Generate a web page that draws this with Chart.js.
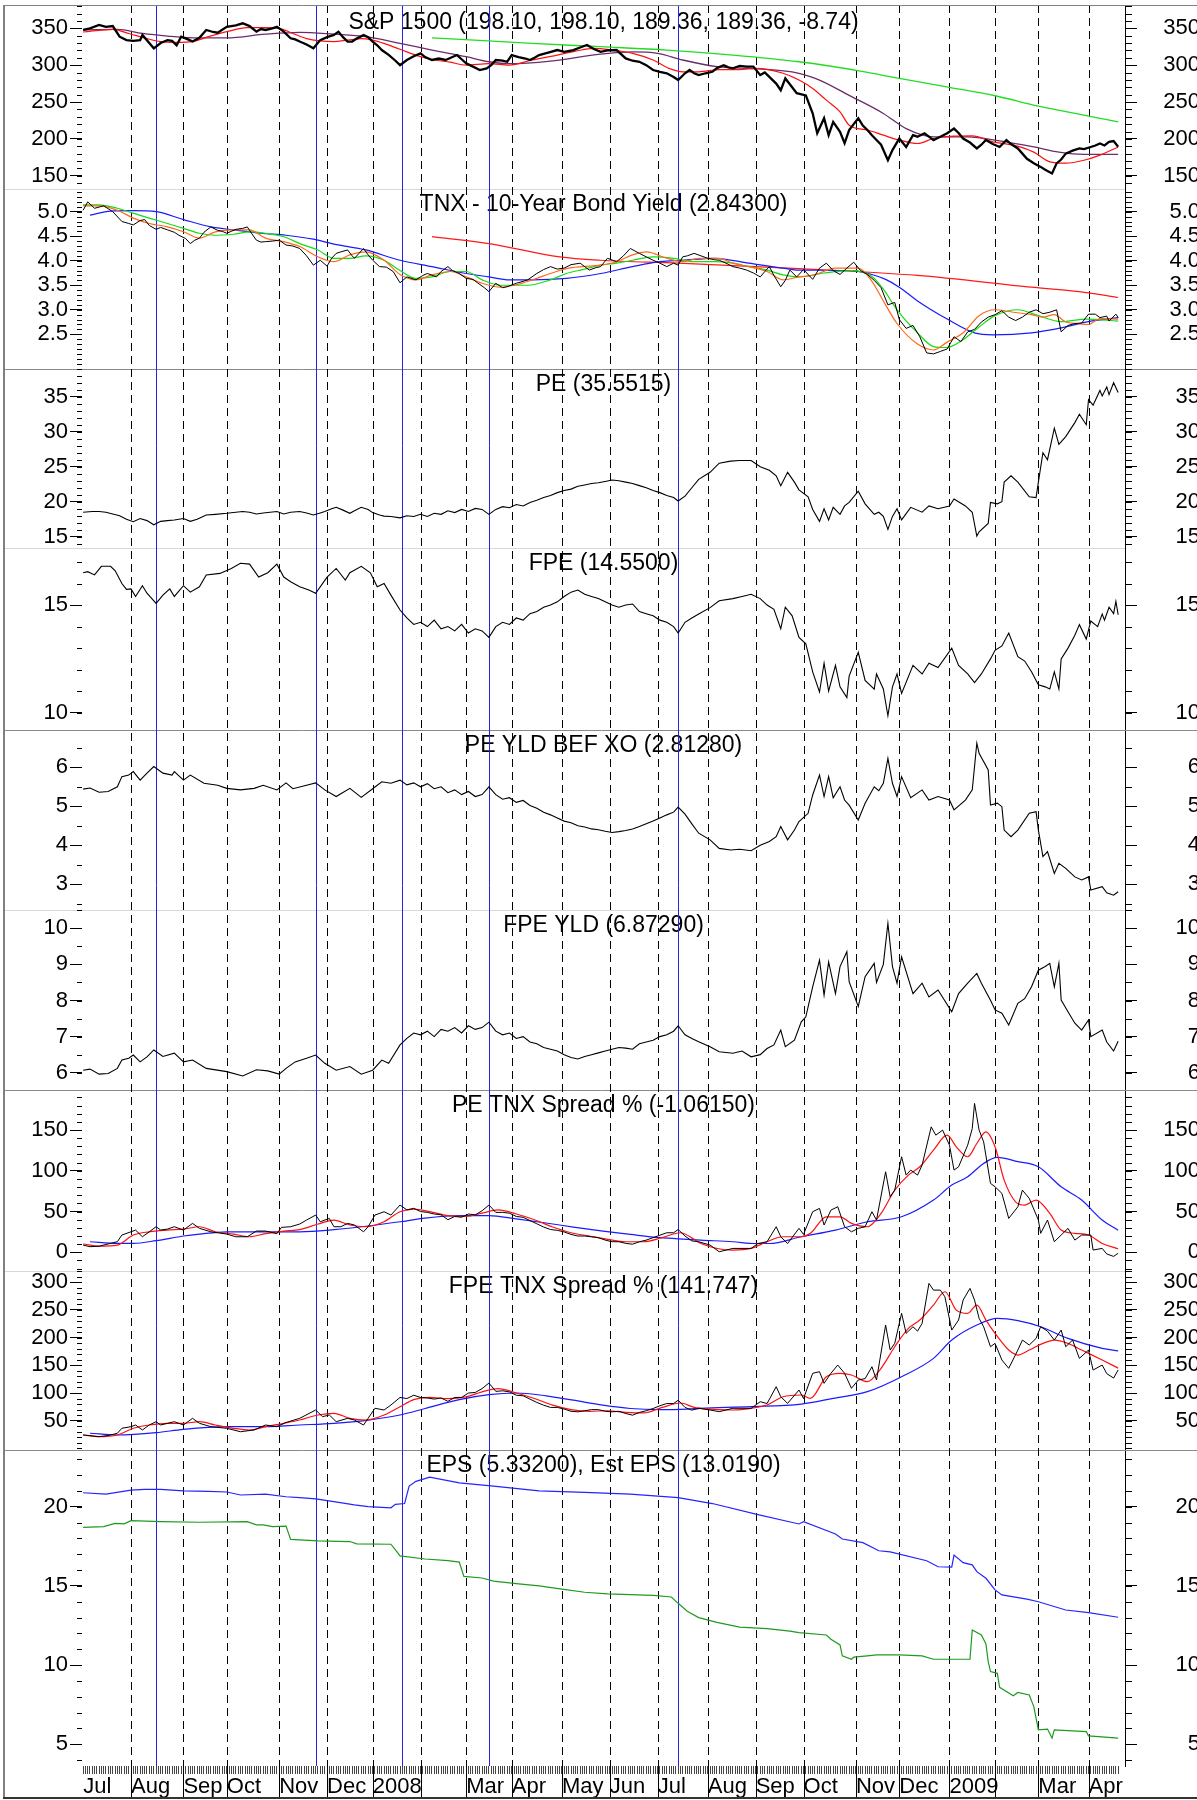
<!DOCTYPE html>
<html>
<head>
<meta charset="utf-8">
<script src="https://cdn.jsdelivr.net/npm/chart.js@4"></script>
<style>
  body { margin: 0; background: #fff; }
  #wrap { width: 1197px; height: 1800px; overflow: hidden; position: relative; }
</style>
</head>
<body>
<div id="wrap"><canvas id="c" width="1200" height="1800"></canvas></div>
<script>
// x = trading day index, 0 = first trading day of July 2007
let months = ['Jul','Aug','Sep','Oct','Nov','Dec','2008','','Mar','Apr','May','Jun','Jul','Aug','Sep','Oct','Nov','Dec','2009','','Mar','Apr'];
let monthStarts = [0,21,44,63,86,107,127,148,168,188,210,231,252,274,295,316,339,358,380,400,419,441];
let lastDay = 454;
let eventDays = [32, 102, 140, 178, 261];   // blue marker lines

let titles = [
  'S&P 1500 (198.10, 198.10, 189.36, 189.36, -8.74)',
  'TNX - 10-Year Bond Yield (2.84300)',
  'PE (35.5515)',
  'FPE (14.5500)',
  'PE YLD BEF XO (2.81280)',
  'FPE YLD (6.87290)',
  'PE TNX Spread % (-1.06150)',
  'FPE TNX Spread % (141.747)',
  'EPS (5.33200), Est EPS (13.0190)'
];

let spxTicks = [150,200,250,300,350];
let tnxTicks = [2.5,3,3.5,4,4.5,5];
let peTicks = [15,20,25,30,35];
let fpeTicks = [10,15];
let peYldTicks = [3,4,5,6];
let fpeYldTicks = [6,7,8,9,10];
let peSpreadTicks = [0,50,100,150];
let fpeSpreadTicks = [50,100,150,200,250,300];
let epsTicks = [5,10,15,20];

// ---- S&P 1500
let spx = [[0,347.7],[3,350],[7,354.5],[10,352],[13,353],[16,338.6],[19,334],[22,333],[25,334],[26,341],[29,330],[31,322.8],[34,330],[37,334],[39,333],[41,327],[43,338.6],[46,335],[48,332],[51,337],[54,347.7],[57,345],[59,344],[63,352],[67,354],[70,356.8],[73,353],[76,345.4],[78,349],[80,347.7],[83,350],[85,352],[88,345.4],[91,336.4],[93,335],[95,332],[98,328],[101,322.8],[104,334],[107,338],[110,341],[112,345.4],[114,338],[116,332],[118,332],[120,336],[123,341],[125,338],[127,332],[129,327],[131,320.5],[134,314],[137,306],[139,300],[142,307],[145,312],[148,316],[150,311],[153,307],[156,309],[159,307],[162,311],[164,313.7],[166,308],[168,302.4],[171,298],[174,293.4],[177,295.6],[179,300],[181,307],[184,306],[186,304.6],[188,313.7],[191,311],[194,309],[196,307],[198,310],[200,313.7],[204,317],[208,320.5],[211,318],[215,320.5],[218,324],[221,327.3],[224,322],[227,318],[230,320],[234,320.5],[238,309.2],[241,306],[244,304.6],[247,300],[250,293.4],[253,291],[256,288.9],[259,284],[261,279.8],[264,289],[266,293.4],[268,289],[270,286.5],[273,289],[276,291],[278,296],[281,300],[283,297],[285,295.6],[288,299],[291,298],[294,298],[297,286.5],[299,290],[301,284],[304,275],[306,266],[308,282],[311,270],[313,262],[317,259],[320,234.7],[322,207.6],[325,228],[327,205],[329,223],[332,209.5],[334,194],[336,212],[338,220],[340,228],[342,218],[344,212],[346,205],[348,198.4],[350,192],[353,171],[355,184.8],[358,200.5],[361,189],[364,205],[366,203],[369,207.6],[371,203],[373,198.4],[376,203],[379,207.6],[382,214],[384,208],[386,200.5],[389,195],[392,187],[394,192],[396,198.4],[399,193],[402,189],[405,198.4],[407,193],[410,187],[412,180],[414,173],[417,167],[420,162],[422,158],[425,153],[427,166.8],[429,172],[431,180],[434,184],[437,187],[439,186],[442,189],[444,191],[446,193.7],[448,191],[450,196],[452,197],[454,189.4]];
let spxMaRed = [[0,345],[13,348.6],[20,343],[28,336],[34,332],[41,331],[48,332],[55,338.6],[63,345.4],[72,351],[80,351],[86,350],[92,343],[98,336],[104,333],[110,332],[116,334],[122,336],[127,334],[132,329.5],[139,321.5],[148,311.5],[154,307],[161,304],[168,300],[178,302],[187,300],[197,307],[208,313.7],[216,319],[224,322.8],[232,320.5],[241,316],[250,307],[257,295.6],[263,291],[270,291],[279,294],[288,294],[295,295.6],[307,289],[314,279.8],[320,268.4],[326,252.6],[332,236.7],[336,218.6],[344,212],[351,205],[358,198.4],[366,193.7],[373,200.5],[382,203.7],[390,204],[399,196],[408,191.5],[417,182],[424,168.8],[431,167],[439,171],[446,178],[454,189]];
let spxMaPurple = [[0,347.7],[15,348.6],[26,343],[37,339.5],[51,337],[63,337],[80,342],[95,344.5],[110,342],[124,338.6],[139,329.6],[153,320.5],[168,311.5],[178,304.6],[187,302],[205,305.6],[227,315],[241,318],[252,316],[263,307],[278,298],[292,295.6],[314,289],[323,279.8],[336,259],[351,234.5],[361,214],[373,202.8],[388,202.8],[402,197.3],[417,189],[428,182],[439,179],[454,179]];
let spxMaGreen = [[153,337],[197,329.6],[227,325],[256,320.5],[285,313.7],[314,304.6],[341,292],[358,282],[380,270],[400,258.5],[419,244.4],[441,231],[454,223]];

// ---- TNX
let tnx = [[0,5.03],[2,5.2],[5,5.07],[9,5.12],[13,5.0],[17,4.8],[20,4.76],[22,4.73],[25,4.82],[27,4.84],[29,4.72],[32,4.64],[34,4.68],[37,4.63],[40,4.58],[42,4.52],[45,4.45],[47,4.35],[49,4.42],[51,4.46],[53,4.58],[56,4.69],[59,4.62],[61,4.6],[63,4.56],[65,4.6],[67,4.64],[70,4.66],[72,4.69],[74,4.55],[76,4.42],[78,4.38],[80,4.39],[83,4.4],[86,4.42],[89,4.32],[92,4.3],[95,4.25],[98,4.1],[101,3.91],[104,4.01],[107,3.89],[109,4.05],[111,4.15],[113,4.18],[116,4.22],[118,4.1],[119,4.05],[121,4.15],[123,4.25],[125,4.12],[127,4.01],[130,3.88],[133,3.87],[136,3.78],[139,3.55],[142,3.67],[146,3.61],[149,3.7],[151,3.74],[155,3.67],[157,3.78],[160,3.88],[162,3.8],[165,3.74],[168,3.64],[171,3.62],[173,3.55],[176,3.45],[178,3.37],[181,3.54],[184,3.45],[186,3.47],[190,3.54],[193,3.58],[195,3.61],[199,3.74],[202,3.82],[205,3.88],[208,3.83],[211,3.85],[214,3.92],[218,3.95],[222,3.81],[225,3.86],[227,3.88],[230,4.05],[234,3.98],[237,4.1],[240,4.25],[242,4.2],[244,4.15],[247,4.08],[250,4.01],[253,3.95],[256,3.88],[259,3.95],[261,3.91],[263,4.08],[265,4.1],[268,4.15],[271,4.1],[274,4.05],[277,4.02],[279,4.01],[282,3.95],[285,3.88],[288,3.85],[291,3.81],[294,3.75],[297,3.67],[299,3.78],[301,3.88],[303,3.7],[306,3.47],[308,3.6],[310,3.81],[313,3.67],[316,3.82],[320,3.62],[323,3.85],[326,3.95],[329,3.8],[332,3.72],[335,3.85],[338,3.97],[341,3.8],[344,3.72],[347,3.6],[350,3.45],[353,3.1],[356,3.15],[358,2.8],[361,2.62],[364,2.68],[367,2.45],[370,2.12],[373,2.1],[376,2.15],[379,2.2],[382,2.45],[385,2.35],[388,2.55],[391,2.6],[394,2.75],[397,2.85],[400,2.9],[403,2.98],[406,2.85],[409,2.78],[412,2.85],[415,2.95],[418,3.0],[421,2.92],[424,2.95],[427,3.0],[429,2.55],[432,2.68],[435,2.72],[438,2.73],[441,2.91],[444,2.91],[446,2.84],[449,2.87],[450,2.77],[453,2.91],[454,2.84]];
let tnxMaOrange = [[0,5.12],[7,5.12],[15,5.03],[22,4.87],[29,4.76],[37,4.69],[44,4.59],[51,4.46],[58,4.59],[66,4.63],[73,4.63],[80,4.46],[88,4.39],[95,4.29],[103,4.08],[110,3.98],[117,4.12],[124,4.18],[132,4.01],[139,3.72],[146,3.61],[153,3.71],[161,3.78],[168,3.67],[175,3.54],[183,3.46],[190,3.51],[197,3.61],[205,3.74],[212,3.84],[219,3.88],[227,3.91],[234,3.98],[241,4.12],[247,4.18],[256,4.05],[263,3.98],[270,4.05],[279,4.05],[285,3.95],[292,3.88],[300,3.78],[307,3.61],[314,3.67],[320,3.7],[330,3.85],[340,3.85],[346,3.58],[351,3.18],[357,2.72],[366,2.3],[373,2.18],[379,2.34],[386,2.53],[393,2.88],[400,3.0],[408,2.95],[416,2.9],[421,2.85],[426,2.9],[431,2.75],[436,2.72],[441,2.7],[446,2.82],[454,2.81]];
let tnxMaGreen = [[0,5.14],[7,5.14],[15,5.07],[22,4.97],[29,4.87],[37,4.76],[44,4.66],[51,4.56],[58,4.52],[66,4.54],[73,4.59],[80,4.56],[88,4.49],[95,4.35],[103,4.22],[110,4.05],[117,4.05],[124,4.1],[132,4.01],[139,3.8],[146,3.64],[153,3.67],[161,3.78],[168,3.78],[175,3.61],[183,3.5],[195,3.5],[205,3.61],[212,3.74],[219,3.82],[227,3.91],[234,3.95],[241,4.01],[250,4.08],[259,4.05],[268,3.98],[277,3.98],[285,3.95],[292,3.88],[300,3.81],[307,3.71],[314,3.67],[325,3.75],[337,3.8],[346,3.68],[351,3.42],[357,3.0],[366,2.53],[373,2.25],[379,2.23],[386,2.39],[393,2.65],[400,2.88],[410,3.0],[419,2.88],[429,2.76],[440,2.81],[454,2.77]];
let tnxMaBlue = [[3,4.93],[12,5.01],[22,5.02],[32,5.0],[44,4.84],[56,4.69],[66,4.63],[78,4.56],[89,4.52],[101,4.44],[110,4.34],[124,4.22],[139,4.01],[153,3.88],[168,3.74],[178,3.67],[187,3.61],[197,3.61],[212,3.64],[227,3.74],[241,3.88],[253,3.98],[263,4.01],[277,4.05],[292,3.95],[307,3.85],[314,3.81],[337,3.8],[346,3.72],[352,3.62],[358,3.46],[366,3.18],[379,2.81],[391,2.53],[399,2.49],[416,2.53],[429,2.63],[441,2.76],[454,2.84]];
let tnxMaRed = [[153,4.49],[178,4.35],[209,4.08],[227,4.01],[261,3.95],[314,3.84],[366,3.7],[416,3.46],[437,3.37],[454,3.25]];

// ---- PE / FPE
let pe = [[0,18.5],[4,18.6],[7,18.6],[10,18.5],[13,18.25],[16,18.0],[19,17.5],[22,17.15],[25,17.6],[28,17.3],[31,16.7],[34,17.2],[37,17.3],[40,17.4],[44,17.6],[47,17.2],[50,17.5],[54,18.1],[58,18.2],[63,18.35],[67,18.5],[70,18.6],[73,18.5],[76,18.25],[79,18.4],[82,18.5],[85,18.6],[88,18.25],[91,18.5],[95,18.6],[98,18.4],[101,18.1],[104,18.4],[106,18.6],[109,19.0],[111,19.2],[114,18.8],[117,18.35],[119,18.7],[122,19.2],[125,18.9],[127,18.45],[130,18.1],[132,17.95],[135,17.9],[139,17.7],[142,18.0],[145,17.9],[148,18.2],[151,17.9],[154,18.35],[157,18.2],[160,18.7],[163,18.45],[166,18.9],[169,18.6],[172,19.05],[175,18.9],[178,18.2],[181,18.9],[184,19.3],[187,19.15],[190,19.6],[193,19.4],[196,19.9],[199,20.2],[202,20.6],[205,20.9],[208,21.3],[211,21.6],[214,21.8],[217,22.2],[220,22.4],[223,22.6],[226,22.7],[229,22.9],[232,23.1],[235,23.0],[238,22.8],[241,22.6],[244,22.3],[247,22.0],[250,21.6],[253,21.3],[256,20.9],[259,20.6],[261,20.1],[264,20.8],[267,22.0],[270,23.2],[275,24.2],[279,25.5],[284,25.8],[288,25.9],[293,25.9],[297,25.0],[301,24.5],[304,23.7],[306,22.3],[309,24.2],[312,22.8],[314,21.7],[318,20.7],[320,18.9],[323,17.2],[325,19.0],[327,17.4],[329,19.2],[332,18.2],[334,19.4],[336,19.9],[340,21.5],[343,19.7],[347,18.2],[349,18.5],[351,17.9],[353,16.05],[355,17.9],[357,19.0],[359,17.4],[363,19.2],[368,18.5],[371,19.4],[375,19.0],[380,19.4],[382,20.4],[387,19.4],[390,18.5],[392,15.1],[393,15.7],[397,16.9],[398,19.9],[401,19.7],[403,20.0],[404,22.8],[407,23.7],[410,22.8],[415,20.7],[418,20.6],[419,22.8],[421,27.0],[423,26.0],[426,30.5],[428,28.2],[431,29.3],[435,31.3],[437,32.5],[440,31.0],[441,34.6],[443,33.8],[446,35.9],[447,35.1],[449,36.4],[450,35.3],[452,37.0],[454,35.6]];
let fpe = [[0,16.5],[2,16.55],[5,16.4],[8,16.8],[12,16.8],[14,16.6],[17,16.0],[19,15.73],[21,15.75],[23,15.4],[26,15.9],[28,15.55],[32,15.08],[35,15.46],[38,15.75],[40,15.4],[44,15.9],[47,15.6],[51,15.85],[54,16.4],[60,16.47],[65,16.7],[69,16.94],[73,16.9],[77,16.3],[81,16.5],[85,16.9],[88,16.3],[91,16.08],[95,15.85],[99,15.7],[102,15.55],[107,16.3],[111,16.7],[115,16.16],[117,16.5],[122,16.8],[126,16.5],[129,15.85],[132,16.0],[135,15.46],[139,14.77],[142,14.4],[145,14.1],[148,14.2],[151,14.0],[154,14.3],[157,13.9],[160,14.0],[163,13.8],[166,14.1],[169,13.7],[172,13.9],[175,13.8],[178,13.5],[181,14.0],[184,14.2],[187,14.1],[190,14.4],[193,14.3],[196,14.6],[199,14.7],[202,14.9],[205,15.0],[208,15.15],[211,15.4],[214,15.6],[217,15.7],[220,15.5],[223,15.4],[226,15.3],[229,15.15],[232,15.0],[235,14.9],[238,15.0],[241,15.05],[244,14.7],[247,14.6],[250,14.5],[253,14.3],[256,14.2],[259,14.0],[261,13.7],[264,14.2],[267,14.4],[270,14.58],[275,14.88],[279,15.2],[285,15.3],[289,15.4],[293,15.5],[297,15.3],[300,15.0],[303,14.8],[306,13.9],[308,14.9],[311,14.5],[314,13.5],[317,13.2],[320,11.9],[323,10.96],[325,12.3],[327,11.0],[330,12.2],[332,11.2],[335,10.7],[336,11.7],[340,12.8],[343,11.5],[347,11.1],[348,11.8],[351,11.1],[353,9.86],[355,11.2],[357,11.8],[359,10.9],[364,12.2],[368,11.8],[371,12.3],[375,12.1],[381,13.0],[384,12.2],[388,11.8],[391,11.4],[394,11.8],[398,12.5],[400,12.9],[403,13.1],[406,13.7],[410,12.6],[413,12.4],[416,11.9],[419,11.3],[422,11.2],[424,11.1],[426,11.9],[428,11.1],[429,12.5],[432,13.0],[435,13.6],[437,14.09],[440,13.42],[442,14.26],[445,14.0],[447,14.58],[448,14.3],[450,14.9],[452,14.6],[453,15.17],[454,14.55]];

// ---- PE YLD / FPE YLD
let peYld = [[0,5.44],[3,5.47],[7,5.36],[11,5.38],[15,5.5],[17,5.76],[20,5.8],[22,5.89],[25,5.67],[28,5.85],[31,6.02],[35,5.85],[39,5.8],[40,5.89],[44,5.67],[47,5.8],[53,5.59],[59,5.54],[63,5.46],[69,5.42],[75,5.46],[79,5.54],[85,5.42],[89,5.6],[92,5.45],[98,5.54],[102,5.6],[106,5.42],[111,5.25],[117,5.46],[122,5.23],[127,5.45],[131,5.63],[135,5.59],[139,5.67],[142,5.55],[145,5.6],[148,5.5],[151,5.58],[154,5.45],[157,5.5],[160,5.35],[163,5.42],[166,5.3],[169,5.38],[172,5.25],[175,5.3],[178,5.5],[181,5.3],[184,5.18],[187,5.22],[190,5.1],[193,5.15],[196,5.02],[199,4.95],[202,4.85],[205,4.78],[208,4.7],[211,4.62],[214,4.58],[217,4.5],[220,4.47],[223,4.42],[226,4.4],[229,4.36],[232,4.33],[235,4.35],[238,4.38],[241,4.42],[244,4.48],[247,4.55],[250,4.62],[253,4.7],[256,4.78],[259,4.85],[261,4.98],[264,4.8],[267,4.55],[270,4.31],[275,4.14],[279,3.92],[284,3.88],[288,3.9],[293,3.86],[297,4.0],[301,4.1],[304,4.22],[306,4.48],[309,4.14],[312,4.39],[314,4.61],[318,4.82],[320,5.29],[323,5.8],[325,5.25],[327,5.76],[329,5.22],[332,5.5],[334,5.16],[336,5.03],[340,4.65],[343,5.08],[347,5.5],[349,5.4],[351,5.59],[353,6.23],[355,5.59],[357,5.25],[359,5.76],[363,5.22],[368,5.42],[371,5.16],[375,5.25],[380,5.16],[382,4.91],[387,5.16],[390,5.42],[392,6.62],[393,6.36],[397,5.93],[398,5.03],[401,5.08],[403,4.99],[404,4.39],[407,4.22],[410,4.39],[415,4.82],[418,4.86],[419,4.39],[421,3.71],[423,3.84],[426,3.28],[428,3.54],[431,3.41],[435,3.19],[438,3.11],[441,3.19],[442,2.85],[447,2.94],[449,2.78],[452,2.72],[454,2.81]];
let fpeYld = [[0,6.07],[3,6.1],[7,5.96],[11,5.98],[15,6.12],[17,6.35],[20,6.4],[22,6.49],[25,6.3],[28,6.44],[31,6.63],[35,6.45],[40,6.54],[44,6.3],[48,6.35],[54,6.12],[63,6.03],[70,5.91],[76,6.08],[81,6.05],[86,5.96],[89,6.12],[93,6.3],[98,6.4],[102,6.49],[106,6.26],[111,6.07],[117,6.17],[122,5.96],[127,6.07],[131,6.35],[134,6.26],[139,6.77],[142,6.95],[145,7.1],[148,7.05],[151,7.15],[154,7.0],[157,7.2],[160,7.15],[163,7.25],[166,7.1],[169,7.3],[172,7.2],[175,7.25],[178,7.4],[181,7.15],[184,7.05],[187,7.1],[190,6.95],[193,7.0],[196,6.85],[199,6.8],[202,6.7],[205,6.65],[208,6.6],[211,6.5],[214,6.42],[217,6.38],[220,6.45],[223,6.5],[226,6.55],[229,6.6],[232,6.65],[235,6.7],[238,6.68],[241,6.65],[244,6.8],[247,6.85],[250,6.9],[253,7.0],[256,7.05],[259,7.15],[261,7.3],[264,7.05],[267,6.95],[270,6.86],[275,6.72],[279,6.58],[285,6.54],[289,6.6],[293,6.44],[297,6.5],[300,6.67],[303,6.77],[306,7.18],[308,6.72],[312,6.9],[315,7.41],[317,7.55],[320,8.38],[323,9.12],[325,8.15],[327,9.07],[330,8.19],[332,8.94],[335,9.35],[336,8.52],[340,7.83],[343,8.66],[347,9.03],[348,8.5],[351,9.0],[353,10.14],[355,8.94],[357,8.48],[359,9.21],[364,8.19],[368,8.48],[371,8.1],[375,8.29],[381,7.69],[384,8.19],[388,8.48],[392,8.75],[394,8.48],[398,8.01],[400,7.74],[403,7.65],[406,7.32],[410,7.92],[413,8.05],[416,8.38],[419,8.84],[422,8.94],[424,9.03],[426,8.38],[428,9.03],[429,8.01],[432,7.69],[435,7.37],[438,7.18],[441,7.46],[442,7.0],[447,7.18],[449,6.85],[452,6.6],[454,6.87]];

// ---- PE TNX spread %
let peSpread = [[0,8.9],[3,6.9],[7,7.5],[12,11],[15,13],[17,21.2],[21,25.2],[23,27.3],[26,19.1],[29,25.2],[32,31.4],[34,27.3],[37,28.5],[40,31.4],[44,27.3],[48,35.5],[51,29.4],[56,25.2],[63,22.4],[67,19.1],[72,19.1],[76,26.1],[80,26.1],[85,22.9],[87,30.6],[91,31.4],[95,34.7],[98,39.6],[102,45.7],[104,37.5],[108,41.6],[110,31.4],[113,31.4],[116,35.5],[119,33.5],[123,25.2],[125,31.4],[128,45.7],[132,49.8],[135,45.7],[139,58],[142,52],[145,54],[148,50],[151,49],[154,47],[157,46],[160,40],[163,44],[166,43],[169,47],[172,46],[175,51],[178,58],[181,49],[184,49],[187,48],[190,44],[193,43],[196,39],[199,35],[202,31],[205,28],[208,27],[211,25],[214,22],[217,20],[220,20],[223,19],[226,18],[229,15],[232,13],[235,13],[238,11],[241,10],[244,13],[247,15],[250,18],[253,21],[256,24],[259,24],[261,28],[264,20],[267,14],[270,13],[275,8.9],[279,0.7],[285,4.8],[293,4.8],[296,10.8],[300,13],[304,31.4],[306,19.1],[309,10.8],[314,29.4],[316,22],[320,49.8],[323,53.9],[325,33.5],[328,51.8],[331,55.9],[334,31.4],[337,25.2],[340,29.4],[343,31.4],[346,49.8],[348,39.6],[352,98.8],[354,68.1],[356,76.3],[359,117.2],[361,94.7],[363,100.9],[366,94.7],[368,107],[372,153.9],[374,143.7],[377,149.9],[380,131.5],[382,100.9],[384,104.9],[388,131.5],[390,151.9],[391,182.6],[393,149.9],[395,135.5],[398,84.6],[400,80.4],[403,72.3],[406,41.6],[410,55.9],[412,76.3],[415,66.2],[419,39.6],[420,23.3],[423,39.6],[426,13],[429,21.2],[432,29.4],[435,15],[438,21.2],[442,21.2],[443,2.8],[447,4.8],[449,-2],[452,-5],[454,-1.1]];
let peSpreadMaRed = [[0,10.2],[7,7.7],[15,8.9],[22,21.2],[29,25.2],[37,27.3],[44,28.5],[51,31.4],[58,25.2],[66,22.4],[73,19.1],[80,22.9],[88,26.1],[95,27.8],[103,34.7],[110,39.6],[117,33.5],[124,31.4],[132,37.5],[139,49.8],[145,53],[152,50],[160,45],[168,44],[175,48],[182,52],[190,47],[198,40],[206,31],[214,24],[222,20],[230,16],[238,13],[246,13],[254,18],[262,24],[268,16],[271,10.8],[285,2.7],[293,4.8],[300,13],[307,19.1],[315,19.1],[319,23.3],[326,43.6],[332,43.6],[337,35.5],[344,31.4],[350,47.7],[356,76.3],[362,94.7],[367,104.9],[373,125.4],[379,143.7],[383,129.4],[388,117.2],[392,133.5],[396,147.8],[400,129.4],[404,88.6],[409,62],[413,57.9],[418,64.1],[424,47.7],[429,27.3],[435,23.3],[441,21.2],[447,10.8],[454,4.4]];
let peSpreadMaBlue = [[3,13],[15,11],[22,11],[32,14.3],[44,20],[51,22.4],[63,25.2],[80,25.2],[95,25.2],[110,27.8],[125,32.3],[139,37.5],[150,42],[165,45],[178,45],[190,41],[203,36],[215,31],[228,26],[240,22],[253,18],[265,16],[271,15],[285,13],[295,10.8],[301,10.8],[315,19.1],[330,27.3],[344,37.5],[359,43.6],[373,64.1],[381,82.5],[388,92.7],[395,109],[401,116.4],[410,111.3],[419,104.9],[429,80.4],[438,64.1],[447,39.6],[454,27]];

// ---- FPE TNX spread %
let fpeSpread = [[0,24.2],[3,23],[7,21.1],[12,24],[15,27.3],[17,36.3],[21,39.2],[23,42.2],[26,33.2],[29,42.2],[32,48.2],[34,42.2],[37,45.3],[40,48.2],[44,42.2],[48,54.3],[51,45.3],[56,39.2],[63,36.3],[69,30.1],[75,33.2],[80,42.2],[85,39.2],[89,46.8],[95,54.3],[102,69.3],[105,57.3],[108,60.3],[111,48.2],[116,54.3],[119,51.2],[123,42.2],[125,54.3],[128,72.4],[132,69.3],[135,78.3],[139,92],[142,90],[145,96],[148,92],[151,91],[154,89],[157,91],[160,85],[163,92],[166,92],[169,100],[172,101],[175,108],[178,118],[181,103],[184,104],[187,102],[190,96],[193,95],[196,89],[199,83],[202,78],[205,74],[208,74],[211,71],[214,67],[217,66],[220,68],[223,70],[226,70],[229,67],[232,66],[235,67],[238,63],[241,60],[244,65],[247,68],[250,72],[253,77],[256,81],[259,81],[261,87],[264,74],[267,69],[270,72.4],[275,69.3],[279,66.3],[285,72.4],[293,72.4],[297,84.3],[300,81],[304,111.4],[306,93.3],[309,81.3],[314,105.4],[316,90],[320,135.6],[323,138.5],[325,117.5],[328,135.6],[331,150.5],[334,135.6],[337,108.5],[340,123.5],[343,126],[346,147.5],[348,123.5],[352,222.8],[354,177.6],[356,189.7],[359,243.9],[361,207.8],[364,219.7],[366,211.8],[368,225.8],[371,298],[373,285.9],[376,285.9],[378,273.8],[381,213.7],[384,231.8],[386,267.9],[389,289],[391,267.9],[393,234.8],[395,219.7],[398,183.6],[400,189.7],[403,159.6],[406,144.6],[410,177.6],[412,195.7],[415,186.7],[418,198.7],[420,219.7],[423,211.8],[426,195.7],[429,213.7],[431,183.6],[434,195.7],[437,162.6],[441,177.6],[443,141.5],[447,150.5],[449,135],[452,127],[454,141.7]];
let fpeSpreadMaRed = [[0,24.2],[7,21.1],[15,24.2],[22,36.3],[29,42.2],[37,45.3],[44,45.3],[51,48.2],[58,42.2],[66,36.3],[73,33.2],[80,39.2],[88,45.3],[95,51.2],[103,60.3],[110,63.3],[117,54.3],[124,51.2],[132,60.3],[139,75.3],[145,88],[152,92],[160,90],[168,93],[175,102],[182,108],[190,100],[198,90],[206,78],[214,70],[222,67],[230,68],[238,65],[246,64],[254,74],[262,82],[268,74],[271,72.4],[285,69.3],[293,72.4],[300,78.3],[307,93.3],[315,96.4],[319,90.4],[326,129.4],[332,135.6],[337,132.6],[344,120.4],[350,144.6],[356,183.6],[362,216.8],[367,231.8],[373,258.8],[378,282.9],[383,249.8],[388,243.9],[392,258.8],[396,231.8],[400,207.8],[406,177.6],[410,168.6],[415,177.6],[421,189.7],[426,195.7],[432,189.7],[438,177.6],[447,159.6],[454,145]];
let fpeSpreadMaBlue = [[3,27.3],[15,24.2],[32,28.3],[44,34.5],[63,39.2],[80,39.2],[95,42.2],[110,45.3],[125,51.2],[139,60.3],[150,72],[165,88],[178,97],[190,100],[203,95],[215,87],[228,78],[240,72],[253,70],[265,71],[271,72.4],[293,75.3],[315,80.1],[329,90.4],[344,102.4],[359,129.4],[373,162.6],[381,195.7],[392,222.8],[401,234.8],[410,230.8],[420,219.7],[432,198.7],[447,180.7],[454,176]];

// ---- EPS
let estEps = [[0,20.88],[10,20.8],[21,21.05],[27,21.1],[34,21.1],[44,21.0],[55,20.97],[63,20.93],[69,20.74],[80,20.8],[89,20.63],[95,20.57],[102,20.49],[110,20.32],[119,20.11],[125,20.0],[135,19.93],[137,20.15],[141,20.2],[143,21.3],[146,21.6],[152,21.87],[165,21.5],[180,21.3],[200,21.0],[220,20.9],[240,20.8],[261,20.57],[276,20.2],[296,19.5],[314,18.91],[316,19.05],[330,18.28],[333,17.96],[342,17.73],[349,17.22],[354,17.15],[370,16.59],[375,16.21],[381,16.18],[382,16.95],[386,16.47],[390,16.33],[392,15.9],[396,15.48],[400,14.75],[403,14.43],[414,14.16],[419,14.0],[431,13.48],[441,13.31],[454,13.02]];
let eps = [[0,18.7],[9,18.74],[14,18.95],[18,18.92],[21,19.12],[34,19.06],[51,19.02],[72,19.06],[76,18.85],[79,18.85],[83,18.74],[89,18.78],[91,17.94],[103,17.84],[117,17.8],[120,17.65],[135,17.63],[137,17.27],[139,16.89],[150,16.7],[160,16.6],[165,16.5],[167,15.6],[175,15.5],[180,15.3],[190,15.14],[200,15.0],[210,14.8],[220,14.6],[230,14.5],[240,14.45],[250,14.4],[258,14.3],[261,13.9],[265,13.4],[270,13.0],[278,12.7],[288,12.4],[300,12.3],[310,12.15],[314,12.05],[326,11.9],[328,11.63],[332,11.27],[333,10.58],[337,10.37],[338,10.5],[344,10.58],[348,10.64],[358,10.64],[368,10.58],[373,10.37],[389,10.37],[390,12.22],[394,11.9],[396,11.34],[397,10.22],[398,9.59],[401,9.48],[402,8.6],[408,8.06],[410,8.27],[415,8.11],[417,7.38],[419,5.91],[423,5.96],[425,5.39],[426,5.91],[440,5.8],[441,5.53],[454,5.39]];

// panel layout: height in px, value range, minor tick step, decimals
let panels = [
  {h: 184, min: 132,   max: 381.6,  ticks: spxTicks,       minor: 10,  dec: 0},
  {h: 180, min: 1.792, max: 5.463,  ticks: tnxTicks,       minor: 0.1, dec: 1},
  {h: 179, min: 13.39, max: 38.96,  ticks: peTicks,        minor: 1,   dec: 0},
  {h: 182, min: 9.197, max: 17.65,  ticks: fpeTicks,       minor: 1,   dec: 0},
  {h: 180, min: 2.341, max: 6.956,  ticks: peYldTicks,     minor: 0.5, dec: 0},
  {h: 180, min: 5.521, max: 10.507, ticks: fpeYldTicks,    minor: 0.5, dec: 0},
  {h: 181, min: -22.9, max: 199.1,  ticks: peSpreadTicks,  minor: 10,  dec: 0},
  {h: 179, min: -2.93, max: 320.4,  ticks: fpeSpreadTicks, minor: 10,  dec: 0},
  {h: 316, min: 3.63,  max: 23.58,  ticks: epsTicks,       minor: 1,   dec: 0}
];

Chart.defaults.font.family = '"Liberation Sans", Arial, sans-serif';
Chart.defaults.color = '#000';

function ds(arr, axis, color, width, smooth) {
  return {
    data: arr.map(p => ({x: p[0], y: p[1]})),
    yAxisID: axis,
    borderColor: color,
    borderWidth: width,
    pointRadius: 0,
    fill: false,
    tension: smooth ? 0.3 : 0,
    cubicInterpolationMode: smooth ? 'monotone' : 'default'
  };
}

let datasets = [
  ds(spx, 'L0', '#000', 2.3),
  ds(spxMaRed, 'L0', '#ff1010', 1.2, true),
  ds(spxMaPurple, 'L0', '#6b2d6b', 1.3, true),
  ds(spxMaGreen, 'L0', '#22dd22', 1.3, true),
  ds(tnx, 'L1', '#000', 1),
  ds(tnxMaOrange, 'L1', '#ff6a1a', 1.2, true),
  ds(tnxMaGreen, 'L1', '#14dd14', 1.2, true),
  ds(tnxMaBlue, 'L1', '#1a1aff', 1.2, true),
  ds(tnxMaRed, 'L1', '#ff1a1a', 1.2, true),
  ds(pe, 'L2', '#000', 1.1),
  ds(fpe, 'L3', '#000', 1.1),
  ds(peYld, 'L4', '#000', 1.1),
  ds(fpeYld, 'L5', '#000', 1.1),
  ds(peSpread, 'L6', '#000', 1),
  ds(peSpreadMaRed, 'L6', '#ff1010', 1.2, true),
  ds(peSpreadMaBlue, 'L6', '#1a1aff', 1.2, true),
  ds(fpeSpread, 'L7', '#000', 1),
  ds(fpeSpreadMaRed, 'L7', '#ff1010', 1.2, true),
  ds(fpeSpreadMaBlue, 'L7', '#1a1aff', 1.2, true),
  ds(estEps, 'L8', '#2424ff', 1.2),
  ds(eps, 'L8', '#1f9a1f', 1.2)
];

let monthAt = {};
monthStarts.forEach((d, i) => { monthAt[d] = months[i]; });

let scales = {
  x: {
    type: 'linear', position: 'bottom', min: -0.5, max: 457,
    afterBuildTicks: s => {
      let t = [];
      for (let d = 0; d <= lastDay; d++) t.push({value: d});
      s.ticks = t;
    },
    afterFit: s => { s.height = 34; s.paddingLeft = 0; s.paddingRight = 0; },
    grid: { drawOnChartArea: false, drawTicks: true, tickLength: 8, color: '#444' },
    border: { display: false },
    ticks: { autoSkip: false, maxRotation: 0, align: 'start', padding: 0, font: {size: 22},
             callback: v => monthAt[v] !== undefined ? monthAt[v] : '' }
  }
};

panels.forEach((p, i) => {
  let base = {
    type: 'linear', min: p.min, max: p.max, stackWeight: p.h,
    afterBuildTicks: s => { s.ticks = p.ticks.map(v => ({value: v})); },
    grid: { drawOnChartArea: false, drawTicks: true, tickLength: 12, color: '#000' }
  };
  let fmt = v => p.dec ? v.toFixed(p.dec) : String(v);
  // no label overhang padding, so the panels fill the area exactly
  let fit = w => s => { s.width = w; s.paddingTop = 0; s.paddingBottom = 0; };
  scales['L' + i] = Object.assign({}, base, {
    position: 'left', stack: 'L', weight: panels.length - i,
    afterFit: fit(82),
    border: { display: false },
    ticks: { autoSkip: false, padding: 2, font: {size: 22}, callback: fmt }
  });
  scales['R' + i] = Object.assign({}, base, {
    position: 'right', stack: 'R', weight: i,
    afterFit: fit(75),
    border: { display: true, color: '#000' },
    ticks: { autoSkip: false, padding: 2, crossAlign: 'far', font: {size: 22}, callback: fmt }
  });
});

function seg(ctx, x1, y1, x2, y2) {
  ctx.beginPath(); ctx.moveTo(x1, y1); ctx.lineTo(x2, y2); ctx.stroke();
}

const decor = {
  id: 'decor',
  beforeDatasetsDraw(chart) {
    const {ctx, chartArea: ca, scales: sc} = chart;
    ctx.save();
    ctx.lineWidth = 1;
    // panel separators (dark between groups)
    for (let i = 1; i < panels.length; i++) {
      const y = Math.round(sc['L' + i].top) + 0.5;
      const dark = i % 2 === 0;
      ctx.strokeStyle = dark ? '#8a8a8a' : '#d8d8d8';
      seg(ctx, 3, y, dark ? chart.width : ca.right, y);
    }
    // titles
    ctx.fillStyle = '#000';
    ctx.font = '23px "Liberation Sans", Arial, sans-serif';
    ctx.textAlign = 'center';
    ctx.textBaseline = 'alphabetic';
    titles.forEach((t, i) => {
      ctx.fillText(t, (ca.left + ca.right) / 2, sc['L' + i].top + (i === 0 ? 24 : 22));
    });
    // month lines
    ctx.strokeStyle = '#000';
    ctx.setLineDash([8, 5]);
    monthStarts.slice(1).forEach(d => {
      const px = Math.round(sc.x.getPixelForValue(d)) + 0.5;
      seg(ctx, px, ca.top, px, ca.bottom);
    });
    ctx.setLineDash([]);
    ctx.strokeStyle = '#2424e6';
    eventDays.forEach(d => {
      const px = Math.round(sc.x.getPixelForValue(d)) + 0.5;
      seg(ctx, px, ca.top, px, ca.bottom);
    });
    ctx.restore();
  },
  afterDraw(chart) {
    const {ctx, chartArea: ca, scales: sc} = chart;
    ctx.save();
    ctx.lineWidth = 1;
    ctx.strokeStyle = '#000';
    // minor ticks on both sides
    panels.forEach((p, i) => {
      const s = sc['L' + i];
      for (let k = Math.ceil(p.min / p.minor); k * p.minor <= p.max; k++) {
        const y = Math.round(s.getPixelForValue(k * p.minor)) + 0.5;
        seg(ctx, ca.left - 5, y, ca.left, y);
        seg(ctx, ca.right, y, ca.right + 7, y);
      }
    });
    // month separators through the date labels
    monthStarts.slice(1).forEach(d => {
      const px = Math.round(sc.x.getPixelForValue(d)) + 0.5;
      seg(ctx, px, ca.bottom, px, chart.height - 3);
    });
    // frame
    ctx.strokeStyle = '#808080';
    ctx.lineWidth = 2;
    seg(ctx, 4, ca.top, 4, chart.height - 2);
    ctx.lineWidth = 1;
    seg(ctx, 3, ca.top + 0.5, chart.width, ca.top + 0.5);
    ctx.strokeStyle = '#333';
    ctx.lineWidth = 2;
    seg(ctx, 3, chart.height - 2, chart.width, chart.height - 2);
    ctx.restore();
  }
};

new Chart(document.getElementById('c'), {
  type: 'line',
  data: { datasets: datasets },
  options: {
    responsive: false,
    animation: false,
    events: [],
    layout: { padding: { top: 5, left: 0, right: 0, bottom: 0 } },
    plugins: { legend: { display: false }, tooltip: { enabled: false } },
    scales: scales
  },
  plugins: [decor]
});
</script>
</body>
</html>
